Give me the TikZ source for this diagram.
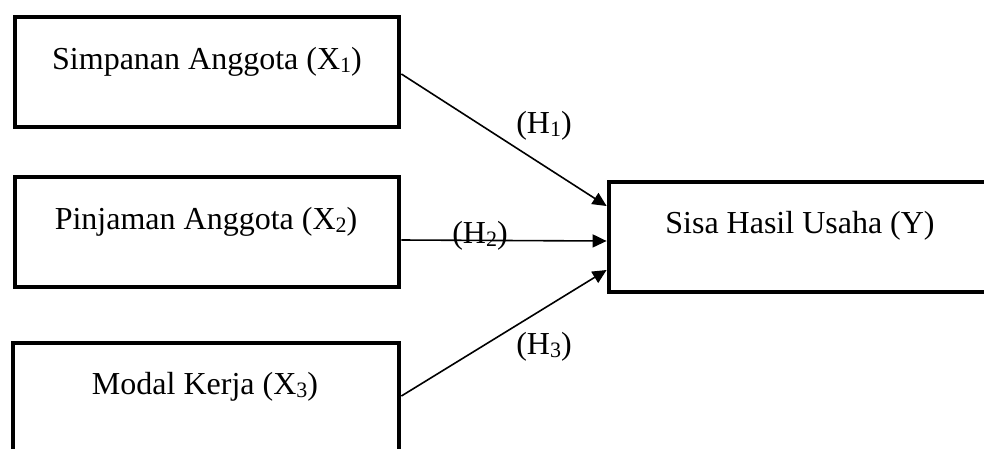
\documentclass[tikz,border=0pt]{standalone}
\usepackage{fontspec}
\setmainfont{Liberation Serif}
\usetikzlibrary{arrows.meta,calc}
% lowered, smaller index digit
\newcommand\lowsub[1]{\raisebox{-3pt}{\fontsize{22}{22}\selectfont #1}}
\tikzset{
  varbox/.style={draw, line width=4.8pt, rectangle, inner sep=0pt,
    minimum width=384pt, minimum height=110pt},
  txt/.style={anchor=base, inner sep=0pt, font=\fontsize{32}{38}\selectfont},
  link/.style={line width=1.6pt, -{Triangle[length=14pt,width=13pt]}}
}
\begin{document}
\begin{tikzpicture}[x=1pt,y=-1pt]
\useasboundingbox (0,0) rectangle (984,448);
\clip (0,0) rectangle (984,448);
% variable boxes
\node[varbox] (b1) at (207,72) {};
\node[varbox] (b2) at (207,232) {};
\node[varbox, minimum width=386pt, minimum height=112pt] (b3) at (206,399) {};
\node[varbox, minimum width=382pt] (by) at (800,237) {};
% box texts
\node[txt] (t1) at (207,69) {Simpanan Anggota (X\lowsub{1})};
\node[txt] (t2) at (206,229) {Pinjaman Anggota (X\lowsub{2})};
\node[txt] (t3) at (205,394) {Modal Kerja (X\lowsub{3})};
\node[txt] (ty) at (800,233) {Sisa Hasil Usaha (Y)};
% hypothesis labels
\node[txt] (h1) at (544,133) {(H\lowsub{1})};
\node[txt] (h2) at (480,243) {(H\lowsub{2})};
\node[txt] (h3) at (544,354) {(H\lowsub{3})};
% paths
\draw[link] ($(b1.east)+(0,2)$) -- ($(by.west)+(0,-31)$);
\draw[link] ($(b2.east)+(0,8)$) -- ($(by.west)+(0,4)$);
\draw[link] ($(b3.east)+(0,-3)$) -- ($(by.west)+(0,33)$);
\end{tikzpicture}
\end{document}
